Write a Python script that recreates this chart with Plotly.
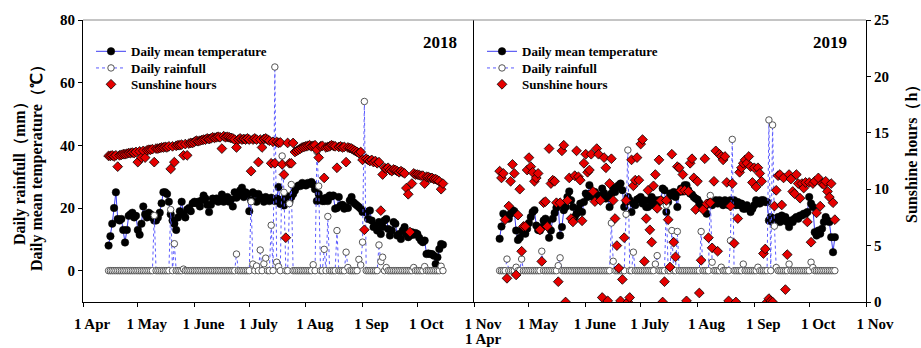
import pandas as pd
import plotly.graph_objects as go

# ---------------- 2018 season (15 Apr - 15 Oct) ----------------
temp_2018 = [
    # Apr 15-30
    8, 11, 15, 20, 25, 16.5, 16, 16.5, 13, 9, 13, 17.5, 18, 18.5, 17, 17.5,
    # May
    13, 11.5, 15, 20.5, 18, 17, 18.5, 18, 17, 16, 16, 17, 18.5, 21.5, 25, 25,
    24.5, 22, 18, 16, 15, 13, 17, 19, 22, 18, 17, 19.5, 20, 19, 21.5,
    # June
    22, 21.5, 22, 20.5, 22.5, 24, 23, 21, 18.7, 21, 23, 22.5, 23, 22, 22.5,
    24.3, 22, 22.7, 23.5, 22, 22.7, 20.5, 25, 23.3, 24, 25.6, 26.5, 23.5, 25, 24.5,
    # July
    19, 22.5, 25, 24.5, 22, 24.5, 23.5, 23, 22, 23.5, 22.7, 22.2, 23.3, 22.7, 22.2,
    23, 26.7, 21.3, 22.7, 20.8, 24, 22.5, 22, 23.5, 24.5, 25.6, 26.7, 27.2, 27, 28, 27.5,
    # August
    27.2, 28, 27.7, 28.3, 27.5, 26, 22.2, 24.5, 23, 22.2, 22.2, 23.3, 22.2, 24, 23.7,
    24, 19.8, 20, 23.5, 20.8, 21, 19.8, 20.3, 20, 22.4, 23.5, 21.8, 21.3, 20.8, 20.3, 19.8,
    # September
    18.7, 18.7, 18.7, 16.5, 19.2, 16, 13.9, 14.4, 12.8, 15.5, 11.7, 13.9, 16, 16.5, 13.3,
    11.2, 12.8, 15.5, 15, 11.2, 11.7, 10.1, 12.8, 13.9, 11.7, 10.7, 11.2, 12.3, 11.5, 12,
    # Oct 1-15
    11.7, 10.5, 9.6, 9.1, 9.6, 5.3, 5.5, 5.3, 5.3, 4.8, 2.1, 4.3, 6.9, 8.5, 8.3,
]

sun_2018 = [
    # Apr 15-30
    12.95, 12.95, 13.0, 12.9, 13.0, 12.0, 13.0, 13.05, 13.1, 13.1, 13.15, 13.2,
    13.2, 13.25, 13.2, 13.3,
    # May
    12.4, 13.35, 12.8, 13.4, 12.8, 13.45, 13.5, 13.5, 13.55, 12.4, 13.6, 13.6, 13.65,
    13.7, 13.7, 13.75, 13.7, 13.8, 11.8, 13.8, 12.4, 13.85, 13.9, 13.9, 13.95, 13.0,
    14.0, 13.0, 14.05, 14.1, 14.1,
    # June
    14.2, 14.3, 14.25, 14.3, 14.35, 14.4, 14.4, 14.5, 14.45, 14.5, 14.6, 14.55, 14.6,
    14.65, 14.6, 13.6, 14.7, 14.6, 14.65, 14.6, 14.55, 14.5, 14.4, 13.7, 14.4, 14.5,
    14.4, 14.45, 14.4, 14.5,
    # July
    14.4, 11.6, 14.4, 14.5, 14.4, 12.4, 14.4, 13.7, 14.45, 14.5, 14.4, 14.3, 12.3,
    14.2, 12.3, 14.2, 14.1, 14.15, 12.2, 11.3, 5.7, 14.1, 12.3, 12.3, 14.1, 13.3,
    13.4, 13.5, 13.6, 13.7, 13.75,
    # August
    13.8, 13.85, 13.9, 13.8, 13.85, 13.9, 13.5, 12.8, 13.8, 13.85, 11.0, 13.7, 13.75,
    13.8, 13.9, 13.85, 13.8, 11.9, 13.75, 13.8, 13.7, 13.75, 12.4, 13.7, 13.65, 13.6,
    13.5, 13.4, 13.3, 13.2, 13.3,
    # September
    12.6, 6.4, 12.7, 12.6, 12.5, 12.6, 12.4, 12.5, 12.3, 12.4, 8.1, 11.3, 11.9, 11.8,
    11.9, 11.7, 11.6, 11.75, 11.7, 11.6, 11.5, 11.6, 11.5, 11.4, 10.1, 9.55, 6.2,
    10.5, 11.4, 11.3,
    # Oct 1-15
    11.3, 11.25, 11.2, 11.2, 10.5, 11.1, 11.1, 11.0, 11.0, 10.9, 10.9, 10.8, 10.7, 10.0, 10.5,
]

# rainy days only; every other day of the season had no rain
rain_2018_days = [
    "2018-05-10", "2018-05-19", "2018-05-21", "2018-05-26", "2018-06-24",
    "2018-07-02", "2018-07-03", "2018-07-05", "2018-07-07", "2018-07-09",
    "2018-07-10", "2018-07-13", "2018-07-15", "2018-07-16", "2018-07-17",
    "2018-07-19", "2018-07-20", "2018-07-23", "2018-07-24", "2018-08-05",
    "2018-08-07", "2018-08-08", "2018-08-11", "2018-08-13", "2018-08-18",
    "2018-08-23", "2018-08-24", "2018-08-30", "2018-08-31", "2018-09-01",
    "2018-09-02", "2018-09-10", "2018-09-11", "2018-09-12", "2018-09-14",
    "2018-09-29", "2018-10-05", "2018-10-14",
]
rain_2018_mm = [
    17.6, 19.5, 8.6, 0.5, 5.3,
    22, 2.1, 1.5, 6.6, 2.2,
    4, 14.5, 65, 2.7, 1.3,
    36.6, 25, 21.4, 27.5, 1.9,
    38, 27, 6.8, 17.3, 12.8,
    5.9, 1, 3.6, 1.8, 9.1,
    54, 8.2, 2.9, 4.3, 1,
    1, 1.3, 1.4,
]

# ---------------- 2019 season (15 Apr - 15 Oct) ----------------
temp_2019 = [
    # Apr 15-30
    10.2, 14.1, 18.2, 17.6, 17.3, 16.6, 18.2, 19.3, 19, 12.8, 9.8, 10.5, 12.8, 12.3, 11.8, 13.4,
    # May
    15.2, 17.1, 18.7, 19.3, 14.4, 13, 12.8, 13.9, 16, 16.6, 15.5, 10.5, 12.8, 16.6, 18.4,
    20.1, 20.9, 11.2, 13.9, 19.3, 20.3, 23.5, 25.3, 22.5, 20.3, 17.1, 18.2, 19.8, 21.4, 18.7, 21.9,
    # June
    24.6, 23.5, 27.3, 24.6, 23.5, 25.1, 23.5, 24, 23, 26.2, 24.8, 23, 23.7, 20.3, 24.6,
    26.2, 25.1, 26.7, 27.3, 27.8, 25.7, 20.3, 21.9, 23.5, 22.5, 18.7, 21.4, 20.9, 22.7, 23,
    # July
    23.5, 21.4, 22.5, 20.3, 20.3, 22.5, 23.5, 20.9, 22.5, 21.4, 22.5, 22.5, 26.2, 25.7, 18.7,
    21.9, 24.6, 24, 25.1, 23.5, 20.3, 25.1, 26.2, 25.3, 27.3, 27.3, 25.7, 24.6, 24.3, 23.5, 23,
    # August
    22.7, 21.6, 20.3, 19.8, 20.5, 18.2, 21.4, 21.9, 20.9, 21.9, 22.5, 21.4, 22.5, 21.9, 20.9,
    22.5, 21.9, 20.9, 22.5, 21.9, 22.5, 20.9, 21.9, 20.9, 21.4, 19.8, 19.8, 20.9, 19.8, 18.7, 19.8,
    # September
    20.9, 22.5, 21.9, 21.4, 22.5, 22.5, 21.9, 21.9, 16, 17.1, 15.5, 16.6, 16, 17.1, 15.5,
    17.6, 16, 17.1, 15.5, 13.9, 16, 15.5, 16.6, 17.1, 16.6, 17.6, 17.6, 18.2, 18.2, 18.7,
    # Oct 1-15
    23.5, 21.4, 20.3, 12.3, 11.2, 12.8, 11.8, 13.4, 15.5, 17.1, 16, 15.5, 10.7, 5.9, 10.7,
]

sun_2019 = [
    # Apr 15-30
    11.6, 11, 11.4, 7.3, 2.1, 8.5, 10.7, 12.2, 11.4, 2.4, 7.7, 10, 4.5, 6.7, 6.7, 11.7,
    # May
    12.8, 12, 11.5, 10.7, 11, 11.4, 6.4, 3.6, 8.8, 8.9, 6.7, 13.6, 10.5, 10.8, 10.7,
    8.8, 1.8, 8.8, 13.4, 13.9, 0, 9, 11, 7.4, 7.1, 11.2, 13.4, 11.1, 10.8, 7.2, 12.3,
    # June
    13.1, 11.5, 11.7, 13.1, 9.8, 8.9, 13.6, 13.1, 9, 0.4, 12.8, 11.9, 0.1, 10.5, 12.7,
    9, 7.4, 5, 3, 0.1, 2, 5.7, 9, 0, 0.4, 12.6, 10.3, 10.8, 12.8, 10.8,
    # July
    14, 14.4, 3.6, 7.4, 9.9, 6.4, 5.3, 10.3, 11.3, 8.3, 12.6, 9, 0, 1.8, 9,
    7.3, 3.1, 13.1, 5.3, 4, 12, 11.9, 9.9, 11.3, 9.9, 0.1, 9.8, 12.3, 12.7, 11, 8.2,
    # August
    10.7, 0.8, 3.7, 8.2, 12.7, 8.7, 5.7, 8.8, 4.8, 10.7, 13.4, 4.5, 13.1, 12.9, 12.6,
    12.9, 10.6, 0.1, 8.5, 10.5, 5.2, 0, 7.4, 11.5, 11.9, 12.3, 12.6, 12.3, 12.9, 12, 10.6,
    # September
    11.9, 10.2, 11.9, 11.4, 10.7, 4.3, 4.7, 0, 0.3, 0.1, 0, 8.5, 9.9, 11.2, 11.3,
    8.6, 11, 1.1, 4.2, 11.3, 10.9, 9.8, 9.6, 11.3, 10.5, 9.2, 10.5, 10.1, 10.6, 7.1,
    # Oct 1-15
    10.6, 5.3, 10.5, 10.7, 7.9, 11, 8.5, 10.5, 10.4, 10.7, 9.8, 9.3, 10.5, 8.8, 7.3,
]

rain_2019_days = [
    "2019-04-19", "2019-04-24", "2019-04-27", "2019-05-08", "2019-05-17",
    "2019-05-18", "2019-06-15", "2019-06-16", "2019-06-23", "2019-06-24",
    "2019-06-27", "2019-07-09", "2019-07-10", "2019-07-15", "2019-07-18",
    "2019-07-21", "2019-08-03", "2019-08-08", "2019-08-09", "2019-08-14",
    "2019-08-19", "2019-08-20", "2019-08-26", "2019-09-03", "2019-09-09",
    "2019-09-11", "2019-09-12", "2019-09-13", "2019-09-20", "2019-10-02",
    "2019-10-03",
]
rain_2019_mm = [
    3.7, 1.1, 3.7, 6.2, 1.6,
    4.1, 15.2, 3, 18, 38.5,
    5.9, 2.1, 4.8, 20.9, 12.8,
    12.5, 12.5, 24, 2.7, 1.1,
    9.6, 41.9, 2.1, 1.1, 48.1,
    46.5, 14.2, 1, 2.1, 2.7,
    1,
]

month_labels = ["1 Apr", "1 May", "1 June", "1 July", "1 Aug", "1 Sep", "1 Oct", "1 Nov"]

# ---------------- styling ----------------
SERIF = "Liberation Serif, Times New Roman, serif"
LINE_BLUE = "#3c3cf2"
DOT_BLUE = "#5a5aff"
SUN_RED = "#e60000"
SPLIT = (474 - 83) / 783  # where the 2018 panel ends and 2019 begins

# one single-entry legend per key row, so the rows sit close together
LEGEND_ROWS = [0.942, 0.883, 0.825]


def season(year, temp, sun, rain_days, rain_mm):
    dates = pd.date_range(f"{year}-04-15", f"{year}-10-15", freq="D")
    assert len(temp) == len(dates) and len(sun) == len(dates)
    rain = pd.Series(0.0, index=dates)
    rain.loc[pd.to_datetime(rain_days)] = rain_mm
    return dates, rain


def add_season(fig, dates, temp, rain, sun, xa, ya, ya_sun, legends):
    fig.add_trace(go.Scatter(
        x=dates, y=temp, name="Daily mean temperature", mode="lines+markers",
        line=dict(color=LINE_BLUE, width=1),
        marker=dict(color="black", size=7.5, line=dict(color="black", width=0.5)),
        xaxis=xa, yaxis=ya, legend=legends[0]))
    fig.add_trace(go.Scatter(
        x=dates, y=rain.values, name="Daily rainfull", mode="lines+markers",
        line=dict(color=DOT_BLUE, width=1, dash="dot"),
        marker=dict(symbol="circle", color="white", size=6.5,
                    line=dict(color="#555555", width=1)),
        xaxis=xa, yaxis=ya, legend=legends[1]))
    fig.add_trace(go.Scatter(
        x=dates, y=sun, name="Sunshine hours", mode="markers",
        marker=dict(symbol="diamond", color=SUN_RED, size=7.5,
                    line=dict(color="black", width=0.8)),
        xaxis=xa, yaxis=ya_sun, legend=legends[2]))


fig = go.Figure()

d18, rain18 = season(2018, temp_2018, sun_2018, rain_2018_days, rain_2018_mm)
d19, rain19 = season(2019, temp_2019, sun_2019, rain_2019_days, rain_2019_mm)
add_season(fig, d18, temp_2018, rain18, sun_2018, "x", "y", "y2",
           ["legend", "legend2", "legend3"])
add_season(fig, d19, temp_2019, rain19, sun_2019, "x2", "y3", "y4",
           ["legend4", "legend5", "legend6"])

tick_font = dict(family=SERIF, size=15, color="black", weight="bold")


def month_ticks(year):
    return [f"{year}-{m:02d}-01" for m in range(4, 12)]


common_x = dict(type="date", showline=True, linecolor="black", linewidth=1,
                ticks="outside", ticklen=4, tickcolor="black", showgrid=False,
                zeroline=False, tickfont=tick_font, ticklabelshift=9,
                ticklabelstandoff=4, automargin=False)

common_y = dict(showline=True, linecolor="black", linewidth=1, ticks="outside",
                ticklen=4, tickcolor="black", showgrid=False, zeroline=False,
                tickfont=tick_font, automargin=False)

legend_common = dict(font=dict(family=SERIF, size=13, color="black", weight="bold"),
                     bgcolor="rgba(0,0,0,0)", xanchor="left", yanchor="top",
                     itemwidth=30)

legend_layout = {}
for i, name in enumerate(["legend", "legend2", "legend3", "legend4", "legend5", "legend6"]):
    x_left = (91 - 83) / 783 if i < 3 else (482 - 83) / 783
    legend_layout[name] = dict(x=x_left, y=LEGEND_ROWS[i % 3], **legend_common)

fig.update_layout(
    width=921, height=348,
    margin=dict(l=83, r=55, t=20, b=46, autoexpand=False),
    paper_bgcolor="white", plot_bgcolor="white",
    xaxis=dict(domain=[0, SPLIT], anchor="y",
               range=["2018-04-01", "2018-11-01"],
               tickvals=month_ticks(2018), ticktext=month_labels[:-1] + [""],
               **common_x),
    xaxis2=dict(domain=[SPLIT, 1], anchor="y3",
                range=["2019-04-01", "2019-11-01"],
                tickvals=month_ticks(2019),
                ticktext=["1 Nov"] + month_labels[1:],
                **common_x),
    yaxis=dict(domain=[0, 1], anchor="x", range=[-10, 80],
               tickvals=[0, 20, 40, 60, 80], **common_y),
    yaxis2=dict(overlaying="y", anchor="x", range=[0, 25], visible=False),
    yaxis3=dict(domain=[0, 1], anchor="x2", range=[-10, 80], showline=True,
                linecolor="black", linewidth=1, ticks="", showticklabels=False,
                showgrid=False, zeroline=False, automargin=False),
    yaxis4=dict(overlaying="y3", anchor="x2", side="right", range=[0, 25],
                tickvals=[0, 5, 10, 15, 20, 25], **common_y),
    showlegend=True,
    shapes=[dict(type="line", xref="paper", yref="paper", x0=0, x1=1, y0=1, y1=1,
                 line=dict(color="#8a8a8a", width=1))],
    **legend_layout,
)

title_font = dict(family=SERIF, size=16, color="black", weight="bold")
year_font = dict(family=SERIF, size=17, color="black", weight="bold")

# second line under the shared 1 Nov / 1 Apr boundary tick
fig.add_annotation(text="1 Apr", xref="paper", yref="paper", x=SPLIT, xshift=9,
                   y=(302 - 339) / 282, showarrow=False, font=tick_font,
                   xanchor="center", yanchor="middle")

fig.add_annotation(text="2018", xref="paper", yref="paper", x=0.456, y=0.92,
                   showarrow=False, font=year_font, xanchor="center", yanchor="middle")
fig.add_annotation(text="2019", xref="paper", yref="paper", x=0.954, y=0.92,
                   showarrow=False, font=year_font, xanchor="center", yanchor="middle")
fig.add_annotation(text="Daily rainfull（mm）", xref="paper", yref="paper",
                   x=(20 - 83) / 783, y=(302 - 170) / 282, textangle=-90,
                   showarrow=False, font=title_font, xanchor="center", yanchor="middle")
fig.add_annotation(text="Daily mean temperature（℃）", xref="paper", yref="paper",
                   x=(37 - 83) / 783, y=(302 - 164) / 282, textangle=-90,
                   showarrow=False, font=title_font, xanchor="center", yanchor="middle")
fig.add_annotation(text="Sunshine hours（h）", xref="paper", yref="paper",
                   x=(912 - 83) / 783, y=(302 - 150) / 282, textangle=-90,
                   showarrow=False, font=title_font, xanchor="center", yanchor="middle")

fig.write_html("out.html")
